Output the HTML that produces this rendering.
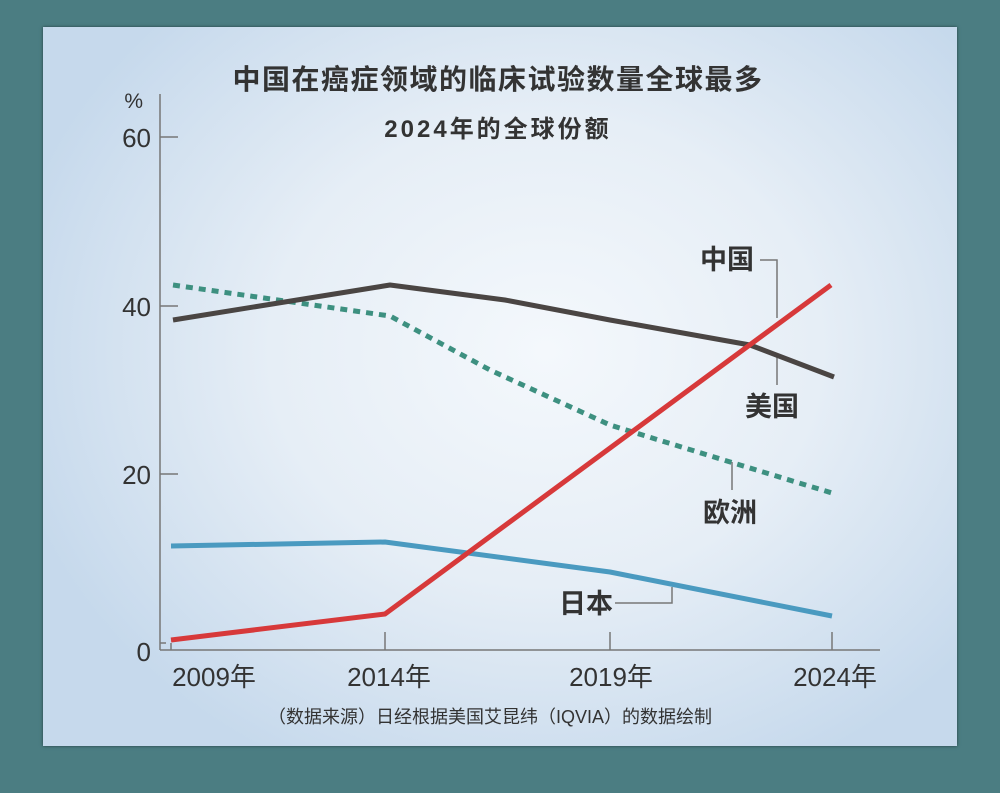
<!DOCTYPE html>
<html><head><meta charset="utf-8"><style>
html,body{margin:0;padding:0;width:1000px;height:793px;background:#4b7d82;overflow:hidden}
.card{position:absolute;left:43px;top:27px;width:914px;height:719px;background:radial-gradient(ellipse 60% 65% at 55% 45%,#f4f8fc 0%,#e6eef6 50%,#c6d9ec 100%);box-shadow:0 0 3px rgba(0,0,0,.5)}
svg{position:absolute;left:0;top:0}
text{font-family:"Liberation Sans","Noto Sans CJK SC",sans-serif;fill:#333}
</style></head><body>
<div class="card"></div>
<svg width="1000" height="793">
<text x="498" y="89" font-size="28" font-weight="bold" letter-spacing="1.5" text-anchor="middle">中国在癌症领域的临床试验数量全球最多</text>
<text x="498" y="137" font-size="24" font-weight="bold" letter-spacing="3" text-anchor="middle">2024年的全球份额</text>
<g stroke="#777" stroke-width="1.5" fill="none">
<line x1="160" y1="94" x2="160" y2="650"/>
<line x1="160" y1="650" x2="880" y2="650"/>
<line x1="160" y1="137" x2="178" y2="137"/>
<line x1="160" y1="306" x2="178" y2="306"/>
<line x1="160" y1="474" x2="178" y2="474"/>
<line x1="160" y1="643" x2="166" y2="643"/>
<line x1="171" y1="643" x2="171" y2="650"/>
<line x1="385" y1="632" x2="385" y2="650"/>
<line x1="610" y1="632" x2="610" y2="650"/>
<line x1="832" y1="632" x2="832" y2="650"/>
<polyline points="760,260 777,260 777,318"/>
<line x1="777" y1="355" x2="777" y2="385"/>
<line x1="732" y1="462" x2="732" y2="490"/>
<polyline points="615,603 672,603 672,587"/>
</g>
<g font-size="26" text-anchor="end">
<text x="143" y="108" font-size="21">%</text>
<text x="151" y="147">60</text>
<text x="151" y="316">40</text>
<text x="151" y="484">20</text>
<text x="151" y="661">0</text>
</g>
<g font-size="26" text-anchor="middle">
<text x="214" y="686">2009年</text>
<text x="389" y="686">2014年</text>
<text x="611" y="686">2019年</text>
<text x="835" y="686">2024年</text>
</g>
<text x="490" y="723" font-size="18" fill="#555" text-anchor="middle">（数据来源）日经根据美国艾昆纬（IQVIA）的数据绘制</text>
<g fill="none" stroke-width="5" stroke-linejoin="round">
<polyline stroke="#4a9ac0" points="171,546 385,542 610,572 832,616"/>
<polyline stroke="#3d9080" stroke-dasharray="7,6" points="173,285 390,316 490,370 610,425 740,465 832,493"/>
<polyline stroke="#4a4543" points="173,320 390,285 505,300 610,320 750,345 834,377"/>
<polyline stroke="#d7393a" points="171,640 385,614 831,285"/>
</g>
<g font-size="27" font-weight="bold">
<text x="700" y="269">中国</text>
<text x="745" y="416">美国</text>
<text x="703" y="522">欧洲</text>
<text x="559" y="613">日本</text>
</g>
</svg>
</body></html>
